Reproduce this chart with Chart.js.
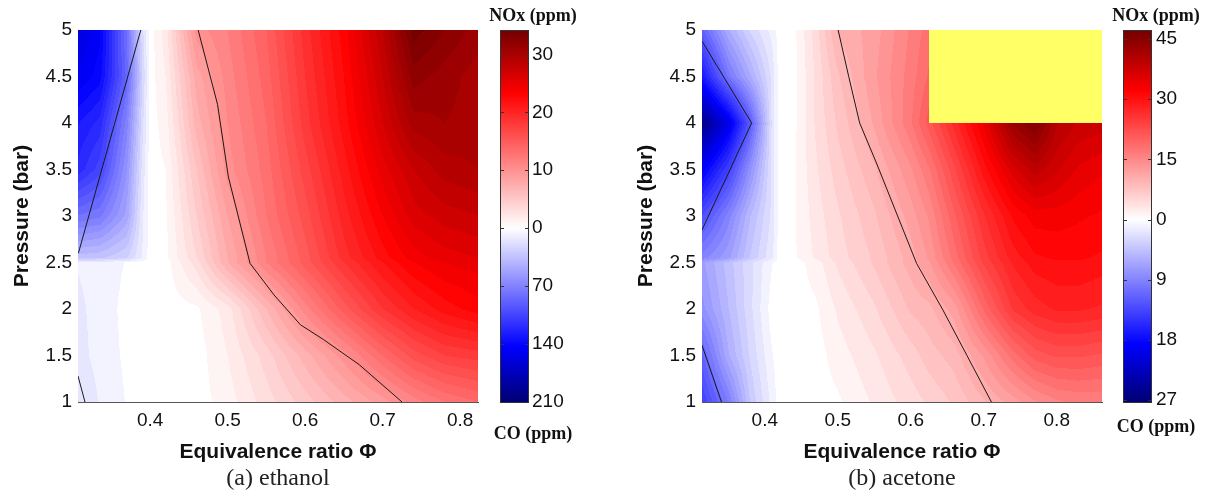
<!DOCTYPE html>
<html>
<head>
<meta charset="utf-8">
<script src="https://cdn.jsdelivr.net/npm/chart.js@4.4.1/dist/chart.umd.min.js"></script>
<style>
    html, body { margin: 0; padding: 0; background: #fff; }
    #wrap { position: relative; width: 1212px; height: 494px; overflow: hidden; }
    .panel { position: absolute; top: 0; height: 494px; }
</style>
</head>
<body>
<div id="wrap">
    <div class="panel" style="left:0;width:600px"><canvas id="ethanolChart"></canvas></div>
    <div class="panel" style="left:624px;width:588px"><canvas id="acetoneChart"></canvas></div>
</div>
<script>
// grid rows (bar); values are ppm, positive = NOx, negative = CO
const pressure = [1, 1.5, 2, 2.5, 2.55, 3, 3.5, 4, 4.5, 5];
const pressureTicks = [1, 1.5, 2, 2.5, 3, 3.5, 4, 4.5, 5];
const phiTicks = [0.4, 0.5, 0.6, 0.7, 0.8];

const ethanolPhi = [0.307, 0.335, 0.37, 0.39, 0.40, 0.42, 0.46, 0.5, 0.55, 0.6, 0.65, 0.7, 0.74, 0.78, 0.823];
const ethanolField = [
    [-18, -10, -3, 0, 0, 0, 0, 1, 3, 5, 7, 9, 11, 12.5, 13.5],
    [-13, -8, -2, 0, 0, 0, 0, 1.5, 4, 7, 10, 13.5, 16, 17.5, 18],
    [-12, -8, -1, 0, 0, 0, 0.3, 2, 6.5, 11, 15, 18.5, 20.5, 22, 23],
    [-10, -8, -3, 0, 0, 0, 3, 7.5, 11.5, 15, 18.5, 21.5, 23.5, 24.5, 25],
    [-35, -33, -25, -10, 0, 0.2, 3.5, 7.5, 11.5, 15, 19, 22, 24, 25, 25.5],
    [-80, -75, -50, -12, 0, 0.3, 4.5, 8.5, 12.5, 16, 20, 23.5, 26, 27, 27.5],
    [-120, -105, -60, -15, 0, 0.5, 5.5, 10, 13, 17, 21, 25, 27.5, 29, 29.5],
    [-130, -120, -70, -20, 0, 1, 7, 10.5, 13.5, 18, 22, 26.5, 30, 30.5, 30],
    [-150, -140, -85, -25, 0, 1.5, 8, 11, 14, 18.5, 22.5, 27.5, 32, 31, 30],
    [-160, -145, -80, -20, 0, 2, 10, 11.5, 14.5, 19, 23, 28.5, 34, 32.5, 31],
];
const ethanolNoxContour = [[0.462, 5], [0.487, 4.2], [0.501, 3.42], [0.529, 2.49], [0.56, 2.15], [0.594, 1.83], [0.624, 1.67], [0.67, 1.4], [0.725, 1]];
const ethanolCoContour = [[0.3075, 2.6], [0.388, 5]];
const ethanolCoContourLow = [[0.307, 1.28], [0.316, 1]];
const ethanolNoxTicks = [0, 10, 20, 30];
const ethanolCoTicks = [70, 140, 210];

const acetonePhi = [0.314, 0.35, 0.38, 0.41, 0.42, 0.44, 0.47, 0.5, 0.55, 0.6, 0.625, 0.66, 0.7, 0.74, 0.77, 0.8, 0.83, 0.862];
const acetoneField = [
    [-14, -9.5, -4, -1, 0, 0, 0, 0.5, 2.5, 4.5, 5.5, 7, 9.5, 12, 14, 15.5, 16, 16],
    [-11.5, -6, -3, -0.5, 0, 0, 0, 1.5, 3.5, 6, 7.5, 9, 13, 18, 21, 22, 22, 21.5],
    [-8, -5, -2.5, 0, 0, 0, 0.5, 2.5, 5, 8.5, 9.3, 12, 19, 25, 27, 28, 28, 27.5],
    [-7, -4.5, -2.5, -0.5, 0, 0, 1.5, 4, 7, 10.5, 12.5, 17.5, 23.5, 28, 30, 30.5, 30.5, 30],
    [-9, -7, -4, -1.5, 0, 0.5, 2.5, 4.5, 7, 10.5, 13, 18, 24, 28.5, 30.5, 31, 31, 30.5],
    [-13, -9, -5, -2, 0, 0.5, 3, 5, 8, 12, 14.5, 20, 26, 31, 33, 33, 32.5, 32],
    [-19, -14, -8, -2, 0, 0.5, 3.5, 6, 9.5, 14, 17, 23, 30, 36, 39, 37, 35, 34],
    [-26, -20, -12, -2, 0, 0.3, 4, 7, 11.5, 17, 21, 27, 34, 43, 46, 40, 38, 37.5],
    [-17, -10, -6, -2, 0, 0.2, 4, 8, 12.5, 16.5, 19, null, null, null, null, null, null, null],
    [-11.5, -6, -3, -1, 0, 0.3, 4.5, 10, 12, 16, 18, null, null, null, null, null, null, null],
];
const acetoneNoxContour = [[0.5005, 5], [0.515, 4.5], [0.53, 4.0], [0.553, 3.57], [0.582, 3.0], [0.608, 2.49], [0.644, 1.99], [0.677, 1.5], [0.7105, 1]];
const acetoneCoContour = [[0.314, 4.88], [0.382, 4.0], [0.314, 2.85]];
const acetoneCoContourLow = [[0.314, 1.61], [0.3407, 1]];
const acetoneNoxTicks = [0, 15, 30, 45];
const acetoneCoTicks = [9, 18, 27];

const missing = [255, 255, 102];
const band = 0.1;

Chart.defaults.font.family = '"Liberation Sans", Arial, sans-serif';
Chart.defaults.color = '#111';

// white -> pure colour at 68 % of the half range -> dark shade at the end
function colourFor(u, uMin, uMax) {
    const t = u >= 0 ? Math.min(u / uMax, 1) : Math.min(u / uMin, 1);
    let light = 0;
    let strong = 255;
    if (t <= 0.68) {
        light = Math.round(255 * (1 - t / 0.68));
    } else {
        strong = Math.round(255 * (1 - 0.55 * (t - 0.68) / 0.32));
    }
    return u >= 0 ? [strong, light, light] : [light, light, strong];
}

function locate(nodes, v) {
    let i = 0;
    while (i < nodes.length - 2 && v > nodes[i + 1]) i++;
    const f = (v - nodes[i]) / (nodes[i + 1] - nodes[i]);
    return [i, Math.max(0, Math.min(1, f))];
}

function makeChart(canvasId, panel) {
    const toUnit = (v) => (v >= 0 ? v / panel.noxStep : v / panel.coStep);
    const toPoints = (arr) => arr.map(([x, y]) => ({ x, y }));
    const barTicks = [
        ...panel.coTicks.map((c) => -c / panel.coStep).reverse(),
        ...panel.noxTicks.map((n) => n / panel.noxStep),
    ];

    const fieldPlugin = {
        id: 'field',
        beforeDatasetsDraw(chart) {
            const { ctx, chartArea: a, scales } = chart;
            const w = Math.round(a.right - a.left);
            const h = Math.round(a.bottom - a.top);
            const off = document.createElement('canvas');
            off.width = w;
            off.height = h;
            const octx = off.getContext('2d');
            const img = octx.createImageData(w, h);
            const cols = [];
            for (let px = 0; px < w; px++) {
                cols.push(locate(panel.phi, scales.x.getValueForPixel(a.left + px + 0.5)));
            }
            let k = 0;
            for (let py = 0; py < h; py++) {
                const [j, fy] = locate(pressure, scales.y.getValueForPixel(a.top + py + 0.5));
                const lo = panel.field[j];
                const hi = panel.field[j + 1];
                for (let px = 0; px < w; px++, k += 4) {
                    const [i, fx] = cols[px];
                    const c = [lo[i], lo[i + 1], hi[i], hi[i + 1]];
                    let rgb;
                    if (c.some((v) => v === null)) {
                        rgb = missing;
                    } else {
                        const cu = c.map(toUnit);
                        const u = (cu[0] * (1 - fx) + cu[1] * fx) * (1 - fy) + (cu[2] * (1 - fx) + cu[3] * fx) * fy;
                        rgb = colourFor(Math.round(u / band) * band, panel.uMin, panel.uMax);
                    }
                    img.data[k] = rgb[0];
                    img.data[k + 1] = rgb[1];
                    img.data[k + 2] = rgb[2];
                    img.data[k + 3] = 255;
                }
            }
            octx.putImageData(img, 0, 0);
            ctx.drawImage(off, a.left, a.top);
        },
    };

    const barPlugin = {
        id: 'colourbar',
        afterDraw(chart) {
            const { ctx, chartArea: a, scales: { cb } } = chart;
            const x0 = Math.round(a.right + panel.barGap);
            const bw = 29;
            const top = Math.round(cb.getPixelForValue(panel.uMax));
            const bottom = Math.round(cb.getPixelForValue(panel.uMin)) + 1;
            for (let py = top; py < bottom; py++) {
                ctx.fillStyle = `rgb(${colourFor(cb.getValueForPixel(py + 0.5), panel.uMin, panel.uMax)})`;
                ctx.fillRect(x0, py, bw, 1);
            }
            ctx.strokeStyle = '#333';
            ctx.lineWidth = 1;
            ctx.strokeRect(x0 + 0.5, top + 0.5, bw - 1, bottom - top - 1);
            cb.ticks.forEach((t) => {
                const y = Math.round(cb.getPixelForValue(t.value)) + 0.5;
                ctx.beginPath();
                ctx.moveTo(x0, y);
                ctx.lineTo(x0 + 4, y);
                ctx.moveTo(x0 + bw - 4, y);
                ctx.lineTo(x0 + bw, y);
                ctx.stroke();
            });
            ctx.save();
            ctx.font = 'bold 18px "Liberation Serif", serif';
            ctx.fillStyle = '#111';
            ctx.textAlign = 'center';
            ctx.textBaseline = 'middle';
            ctx.fillText('NOx (ppm)', x0 + 33, 16);
            ctx.fillText('CO (ppm)', x0 + 33, panel.coLabelY);
            ctx.font = '24px "Liberation Serif", serif';
            ctx.fillStyle = '#222';
            ctx.fillText(panel.caption, (a.left + a.right) / 2, 479);
            ctx.restore();
        },
    };

    const line = (pts) => ({
        data: toPoints(pts),
        showLine: true,
        borderColor: '#1a1a1a',
        borderWidth: 1,
        pointRadius: 0,
        tension: 0,
        yAxisID: 'y',
    });

    return new Chart(document.getElementById(canvasId), {
        type: 'scatter',
        data: {
            datasets: [line(panel.noxContour), line(panel.coContour), line(panel.coContourLow)],
        },
        plugins: [fieldPlugin, barPlugin],
        options: {
            responsive: true,
            maintainAspectRatio: false,
            animation: false,
            events: [],
            layout: { padding: { top: 30, left: 0, right: 0, bottom: 0 } },
            plugins: {
                legend: { display: false },
                tooltip: { enabled: false },
                title: { display: false },
            },
            scales: {
                x: {
                    type: 'linear',
                    min: panel.phi[0],
                    max: panel.phi[panel.phi.length - 1],
                    afterBuildTicks: (s) => { s.ticks = phiTicks.map((v) => ({ value: v })); },
                    afterFit: (s) => { s.height = 92; },
                    grid: { display: false, drawTicks: false },
                    border: { display: true, color: '#555', width: 1 },
                    ticks: { padding: 7, font: { size: 19 }, callback: (v) => v.toFixed(1), maxRotation: 0 },
                    title: {
                        display: true,
                        text: 'Equivalence ratio Φ',
                        font: { size: 21, weight: 'bold' },
                        padding: { top: 0, bottom: 29 },
                    },
                },
                y: {
                    type: 'linear',
                    position: 'left',
                    min: 1,
                    max: 5,
                    afterBuildTicks: (s) => { s.ticks = pressureTicks.map((v) => ({ value: v })); },
                    afterFit: (s) => { s.width = 78; },
                    grid: { display: false, drawTicks: false },
                    border: { display: false },
                    ticks: { padding: 6, font: { size: 19 }, callback: (v) => String(v) },
                    title: {
                        display: true,
                        text: 'Pressure (bar)',
                        font: { size: 21, weight: 'bold' },
                        padding: { top: 10, bottom: 0 },
                    },
                },
                cb: {
                    type: 'linear',
                    position: 'right',
                    axis: 'y',
                    min: panel.uMin,
                    max: panel.uMax,
                    afterBuildTicks: (s) => { s.ticks = barTicks.map((v) => ({ value: v })); },
                    afterFit: (s) => { s.width = panel.barAxisWidth; },
                    // tick marks hidden, their length only pushes the labels past the bar
                    grid: { display: false, drawTicks: true, tickLength: 50 },
                    border: { display: false },
                    ticks: {
                        padding: 4,
                        font: { size: 19 },
                        callback: (v) => String(v > 0 ? Math.round(v * panel.noxStep) : Math.round(-v * panel.coStep)),
                    },
                },
            },
        },
    });
}

makeChart('ethanolChart', {
    phi: ethanolPhi,
    field: ethanolField,
    noxContour: ethanolNoxContour,
    coContour: ethanolCoContour,
    coContourLow: ethanolCoContourLow,
    noxTicks: ethanolNoxTicks,
    coTicks: ethanolCoTicks,
    noxStep: 10,
    coStep: 70,
    uMin: -3.0,
    uMax: 3.42,
    barGap: 22,
    barAxisWidth: 122,
    coLabelY: 434,
    caption: '(a) ethanol',
});

makeChart('acetoneChart', {
    phi: acetonePhi,
    field: acetoneField,
    noxContour: acetoneNoxContour,
    coContour: acetoneCoContour,
    coContourLow: acetoneCoContourLow,
    noxTicks: acetoneNoxTicks,
    coTicks: acetoneCoTicks,
    noxStep: 15,
    coStep: 9,
    uMin: -3.03,
    uMax: 3.15,
    barGap: 21,
    barAxisWidth: 110,
    coLabelY: 427,
    caption: '(b) acetone',
});
</script>
</body>
</html>
